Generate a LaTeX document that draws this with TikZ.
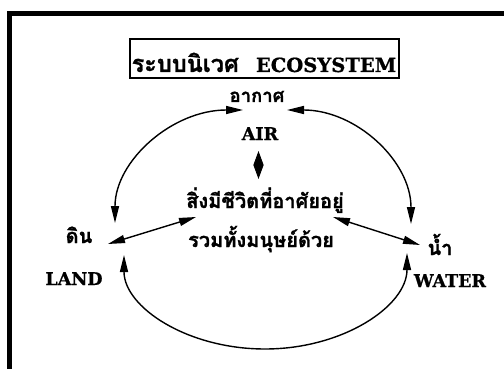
\documentclass[tikz,border=0pt]{standalone}
\usepackage{fontspec}
\newfontfamily\thaifont[Script=Thai,BoldFeatures={FakeBold=1.2}]{Loma}
\newfontfamily\enfont[BoldFeatures={FakeBold=0.8}]{DejaVu Serif}
\usetikzlibrary{arrows.meta}
\begin{document}
\begin{tikzpicture}[x=1pt,y=-1pt,
  tip/.tip={Triangle[length=17pt,width=8pt]},
  conn/.style={line width=1.4pt, tip-tip},
  th/.style={font=\thaifont\bfseries\fontsize{20}{24}\selectfont, inner sep=0pt, anchor=base},
  en/.style={font=\enfont\bfseries\fontsize{17.5}{21}\selectfont, inner sep=0pt, anchor=base}]
\useasboundingbox (0,0) rectangle (504,369);
\clip (0,0) rectangle (504,369);
\fill[white] (0,0) rectangle (504,369);
% outer frame
\draw[line width=5pt] (9.5,13.5) rectangle (530,400);
% title
\node[draw, line width=1.5pt, minimum width=269pt, minimum height=39pt, inner sep=0pt] (titlebox) at (264.5,58.5) {};
\node[anchor=base, inner sep=0pt] (titletext) at (264,72)
  {{\thaifont\bfseries\fontsize{23.5}{26}\selectfont ระบบนิเวศ}\hspace{17pt}{\enfont\bfseries\fontsize{19.5}{23}\selectfont ECOSYSTEM}};
% labels
\node[th, font=\thaifont\bfseries\fontsize{18.5}{22}\selectfont] (air) at (257,102) {อากาศ};
\node[en] (airen) at (260,140) {AIR};
\node[th] (life1) at (265,208) {สิ่งมีชีวิตที่อาศัยอยู่};
\node[th] (life2) at (261,247) {รวมทั้งมนุษย์ด้วย};
\node[th] (land) at (79,243) {ดิน};
\node[en] (landen) at (74,285) {LAND};
\node[th] (water) at (440,255) {น้ำ};
\node[en] (wateren) at (450,287) {WATER};
% connector ends
\coordinate (tl) at (243,110);
\coordinate (lt) at (115,223);
\coordinate (tr) at (287,110);
\coordinate (rt) at (411,224);
\coordinate (ml1) at (108,244);
\coordinate (ml2) at (196,217);
\coordinate (mr1) at (333,217);
\coordinate (mr2) at (420,245);
\coordinate (bl) at (124,255);
\coordinate (bot) at (265,349);
\coordinate (br) at (407,253);
\coordinate (d1) at (258.5,151);
\coordinate (d2) at (258.5,179);
% connectors
\draw[conn] (tl) .. controls (172,110) and (115,161) .. (lt);
\draw[conn] (tr) .. controls (356,110) and (411,161) .. (rt);
\draw[conn] (ml1) -- (ml2);
\draw[conn] (mr1) -- (mr2);
\draw[conn] (bl) .. controls (124,307) and (187,349) .. (bot) .. controls (343,349) and (407,306) .. (br);
\draw[line width=1pt, {Triangle[length=14pt,width=10pt]}-{Triangle[length=14pt,width=10pt]}] (d1) -- (d2);
\end{tikzpicture}
\end{document}
